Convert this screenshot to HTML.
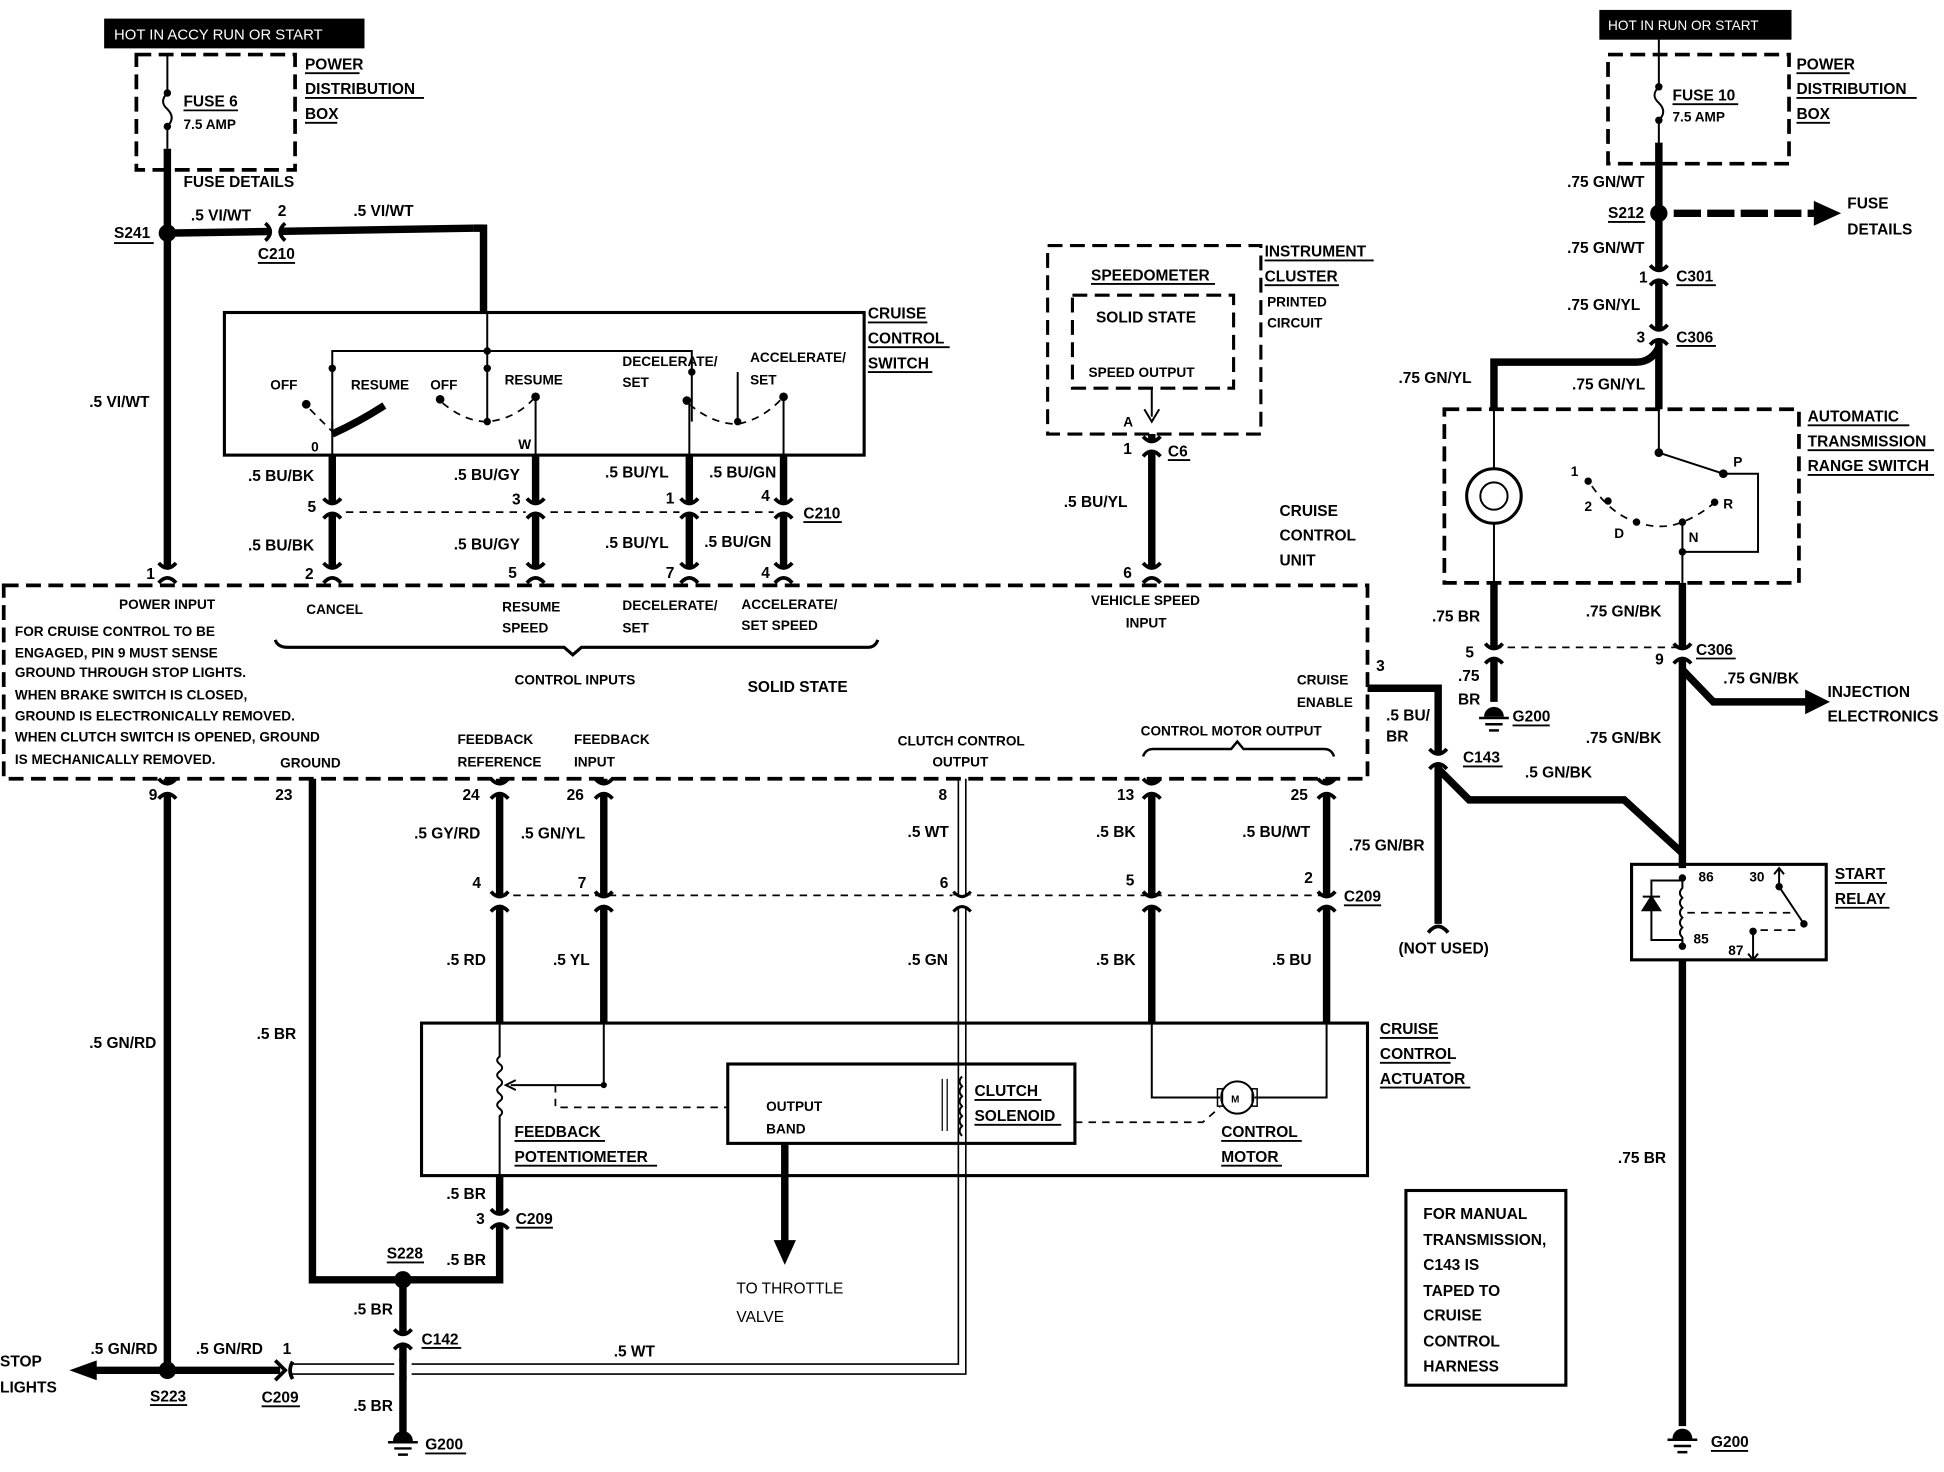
<!DOCTYPE html>
<html><head><meta charset="utf-8"><style>
html,body{margin:0;padding:0;background:#fff;}
svg{display:block;}
text{font-family:"Liberation Sans Narrow","Liberation Sans",sans-serif;font-weight:bold;font-size:12.5px;fill:#000;}
.s{font-size:11px;}
.w{fill:#fff;}
.th{stroke:#000;stroke-width:6;fill:none;}
.tn{stroke:#000;stroke-width:1.6;fill:none;}
.ds{stroke:#000;stroke-width:3;fill:none;stroke-dasharray:12 6;}
.dt{stroke:#000;stroke-width:1.4;fill:none;stroke-dasharray:6 5;}
.u{stroke:#000;stroke-width:1.5;}
</style></head><body>
<svg width="1944" height="1472" viewBox="0 0 1568 1187" preserveAspectRatio="none" xmlns="http://www.w3.org/2000/svg">
<defs>
<g id="cv"><rect x="-8" y="-4" width="16" height="8" fill="#fff"/><path d="M-7,-8 Q0,0 7,-8 M-7,8 Q0,0 7,8" stroke="#000" stroke-width="3" fill="none"/></g>
<g id="gnd"><path d="M-8,2 A8,8 0 0 1 8,2 Z" fill="#000"/><line x1="-12" y1="3" x2="12" y2="3" stroke="#000" stroke-width="2"/><line x1="-7" y1="8" x2="7" y2="8" stroke="#000" stroke-width="2"/><line x1="-4" y1="13" x2="4" y2="13" stroke="#000" stroke-width="2"/></g>
</defs>

<!-- LEFT FUSE -->
<rect x="84" y="15" width="210" height="24" fill="#000"/>
<text x="92" y="32" class="w" style="font-weight:normal;font-size:12px;fill:#fff">HOT IN ACCY RUN OR START</text>
<rect x="110" y="44" width="128" height="93" class="ds"/>
<path d="M135,44 V75 Q128,82 135,88 Q142,95 135,102 V120" class="tn"/>
<circle cx="135" cy="75" r="3"/><circle cx="135" cy="102" r="3"/>
<text x="148" y="86">FUSE 6</text><line x1="148" y1="89" x2="192" y2="89" class="u"/>
<text x="148" y="104" class="s">7.5 AMP</text>
<text x="246" y="56">POWER</text><line x1="246" y1="59" x2="290" y2="59" class="u"/>
<text x="246" y="76">DISTRIBUTION</text><line x1="246" y1="79" x2="342" y2="79" class="u"/>
<text x="246" y="96">BOX</text><line x1="246" y1="99" x2="272" y2="99" class="u"/>
<text x="148" y="151">FUSE DETAILS</text>
<line x1="135" y1="120" x2="135" y2="462" class="th"/>
<circle cx="135" cy="188" r="7"/>
<text x="92" y="192">S241</text><line x1="92" y1="196" x2="124" y2="196" class="u"/>
<line x1="135" y1="188" x2="382" y2="184" class="th"/>
<line x1="382" y1="184" x2="390" y2="184" class="th"/>
<line x1="390" y1="181" x2="390" y2="252" class="th"/>
<g transform="translate(222,187) rotate(90)"><use href="#cv"/></g>
<text x="154" y="178">.5 VI/WT</text><text x="224" y="174">2</text>
<text x="285" y="174">.5 VI/WT</text>
<text x="208" y="209">C210</text><line x1="208" y1="212" x2="238" y2="212" class="u"/>
<text x="72" y="328">.5 VI/WT</text>

<!-- CRUISE CONTROL SWITCH -->
<rect x="181" y="252" width="516" height="115" class="tn" style="stroke-width:2.5"/>
<text x="700" y="257">CRUISE</text><line x1="700" y1="260" x2="748" y2="260" class="u"/>
<text x="700" y="277">CONTROL</text><line x1="700" y1="280" x2="766" y2="280" class="u"/>
<text x="700" y="297">SWITCH</text><line x1="700" y1="300" x2="752" y2="300" class="u"/>
<line x1="393" y1="252" x2="393" y2="340" class="tn"/>
<path d="M268,350 V283 H558 V340" class="tn"/>
<circle cx="393" cy="283" r="3"/><circle cx="393" cy="297" r="3"/><circle cx="268" cy="297" r="3"/><circle cx="558" cy="300" r="3"/>
<text x="218" y="314" class="s">OFF</text><text x="283" y="314" class="s">RESUME</text>
<text x="347" y="314" class="s">OFF</text><text x="407" y="310" class="s">RESUME</text>
<text x="502" y="295" class="s">DECELERATE/</text><text x="502" y="312" class="s">SET</text>
<text x="605" y="292" class="s">ACCELERATE/</text><text x="605" y="310" class="s">SET</text>
<circle cx="247" cy="326" r="3.5"/><path d="M250,330 Q260,340 268,348" class="dt"/>
<path d="M268,350 Q290,340 310,327" stroke="#000" stroke-width="6" fill="none"/>
<circle cx="355" cy="322" r="3.5"/><path d="M357,325 Q375,340 393,340 Q415,338 430,322" class="dt"/><circle cx="432" cy="320" r="3.5"/><circle cx="393" cy="340" r="3"/>
<circle cx="554" cy="323" r="3.5"/><path d="M556,326 Q575,342 595,342 Q615,338 630,322" class="dt"/><circle cx="632" cy="320" r="3.5"/><circle cx="595" cy="340" r="3"/>
<line x1="595" y1="300" x2="595" y2="342" class="tn"/>
<line x1="268" y1="340" x2="268" y2="367" class="tn"/>
<line x1="432" y1="320" x2="432" y2="367" class="tn"/>
<line x1="556" y1="323" x2="556" y2="367" class="tn"/>
<line x1="632" y1="320" x2="632" y2="367" class="tn"/>
<text x="251" y="364" class="s">0</text><text x="418" y="362" class="s">W</text>

<!-- switch outputs -->
<line x1="268" y1="367" x2="268" y2="462" class="th"/>
<line x1="432" y1="367" x2="432" y2="462" class="th"/>
<line x1="556" y1="367" x2="556" y2="462" class="th"/>
<line x1="632" y1="367" x2="632" y2="462" class="th"/>
<line x1="268" y1="413" x2="632" y2="413" class="dt"/>
<use href="#cv" x="268" y="410"/><use href="#cv" x="432" y="410"/><use href="#cv" x="556" y="410"/><use href="#cv" x="632" y="410"/>
<use href="#cv" x="135" y="462"/><use href="#cv" x="268" y="462"/><use href="#cv" x="432" y="462"/><use href="#cv" x="556" y="462"/><use href="#cv" x="632" y="462"/>
<text x="200" y="388">.5 BU/BK</text><text x="366" y="387">.5 BU/GY</text><text x="488" y="385">.5 BU/YL</text><text x="572" y="385">.5 BU/GN</text>
<text x="248" y="413">5</text><text x="413" y="407">3</text><text x="537" y="406">1</text><text x="614" y="404">4</text>
<text x="648" y="418">C210</text><line x1="648" y1="421" x2="679" y2="421" class="u"/>
<text x="200" y="444">.5 BU/BK</text><text x="366" y="443">.5 BU/GY</text><text x="488" y="442">.5 BU/YL</text><text x="568" y="441">.5 BU/GN</text>
<text x="118" y="467">1</text><text x="246" y="467">2</text><text x="410" y="466">5</text><text x="537" y="466">7</text><text x="614" y="466">4</text>

<!-- SPEEDOMETER -->
<rect x="845" y="198" width="172" height="152" class="ds" style="stroke-width:2.5"/>
<rect x="865" y="238" width="130" height="75" class="ds" style="stroke-width:2.5"/>
<text x="880" y="226">SPEEDOMETER</text><line x1="880" y1="229" x2="980" y2="229" class="u"/>
<text x="884" y="260">SOLID STATE</text>
<text x="878" y="304" class="s">SPEED OUTPUT</text>
<text x="1020" y="207">INSTRUMENT</text><line x1="1020" y1="210" x2="1108" y2="210" class="u"/>
<text x="1020" y="227">CLUSTER</text><line x1="1020" y1="230" x2="1080" y2="230" class="u"/>
<text x="1022" y="247" class="s">PRINTED</text><text x="1022" y="264" class="s">CIRCUIT</text>
<line x1="929" y1="313" x2="929" y2="336" class="tn"/><path d="M923,330 L929,340 L935,330" class="tn"/>
<text x="906" y="344" class="s">A</text>
<line x1="929" y1="350" x2="929" y2="462" class="th"/>
<use href="#cv" x="929" y="360"/><use href="#cv" x="929" y="462"/>
<text x="906" y="366">1</text><text x="942" y="368">C6</text><line x1="942" y1="371" x2="960" y2="371" class="u"/>
<text x="858" y="409">.5 BU/YL</text><text x="906" y="466">6</text>
<text x="1032" y="416">CRUISE</text><text x="1032" y="436">CONTROL</text><text x="1032" y="456">UNIT</text>

<!-- CCU -->
<rect x="3" y="472" width="1100" height="156" class="ds"/>
<text x="96" y="491" class="s">POWER INPUT</text>
<text x="247" y="495" class="s">CANCEL</text>
<text x="405" y="493" class="s">RESUME</text><text x="405" y="510" class="s">SPEED</text>
<text x="502" y="492" class="s">DECELERATE/</text><text x="502" y="510" class="s">SET</text>
<text x="598" y="491" class="s">ACCELERATE/</text><text x="598" y="508" class="s">SET SPEED</text>
<text x="880" y="488" class="s">VEHICLE SPEED</text><text x="908" y="506" class="s">INPUT</text>
<g class="s"><text x="12" y="513" class="s">FOR CRUISE CONTROL TO BE</text>
<text x="12" y="530" class="s">ENGAGED, PIN 9 MUST SENSE</text>
<text x="12" y="546" class="s">GROUND THROUGH STOP LIGHTS.</text>
<text x="12" y="564" class="s">WHEN BRAKE SWITCH IS CLOSED,</text>
<text x="12" y="581" class="s">GROUND IS ELECTRONICALLY REMOVED.</text>
<text x="12" y="598" class="s">WHEN CLUTCH SWITCH IS OPENED, GROUND</text>
<text x="12" y="616" class="s">IS MECHANICALLY REMOVED.</text></g>
<path d="M222,516 Q224,522 232,522 H455 L462,528 L469,522 H700 Q706,522 708,516" class="tn" style="stroke-width:2.5"/>
<text x="415" y="552" class="s">CONTROL INPUTS</text>
<text x="603" y="558">SOLID STATE</text>
<text x="1046" y="552" class="s">CRUISE</text><text x="1046" y="570" class="s">ENABLE</text>
<text x="226" y="619" class="s">GROUND</text>
<text x="369" y="600" class="s">FEEDBACK</text><text x="369" y="618" class="s">REFERENCE</text>
<text x="463" y="600" class="s">FEEDBACK</text><text x="463" y="618" class="s">INPUT</text>
<text x="724" y="601" class="s">CLUTCH CONTROL</text><text x="752" y="618" class="s">OUTPUT</text>
<text x="920" y="593" class="s">CONTROL MOTOR OUTPUT</text>
<path d="M922,610 Q924,604 930,604 H993 L998,598 L1003,604 H1068 Q1074,604 1076,610" class="tn" style="stroke-width:2"/>
<text x="1110" y="541">3</text>

<!-- below CCU wires -->
<line x1="135" y1="628" x2="135" y2="1105" class="th"/>
<path d="M252,628 V1032 H325" class="th"/>
<line x1="403" y1="628" x2="403" y2="825" class="th"/>
<line x1="487" y1="628" x2="487" y2="825" class="th"/>
<path d="M773,628 V1100 H235 M779,628 V1108 H235" class="tn" style="stroke-width:1.3"/>
<line x1="929" y1="628" x2="929" y2="825" class="th"/>
<line x1="1070" y1="628" x2="1070" y2="825" class="th"/>
<use href="#cv" x="135" y="636"/><use href="#cv" x="403" y="636"/><use href="#cv" x="487" y="636"/><use href="#cv" x="929" y="636"/><use href="#cv" x="1070" y="636"/>
<text x="120" y="645">9</text><text x="222" y="645">23</text><text x="373" y="645">24</text><text x="457" y="645">26</text><text x="757" y="645">8</text><text x="901" y="645">13</text><text x="1041" y="645">25</text>
<line x1="403" y1="722" x2="1070" y2="722" class="dt"/>
<use href="#cv" x="403" y="727"/><use href="#cv" x="487" y="727"/><rect x="768" y="722" width="16" height="10" fill="#fff"/><path d="M769,719 Q776,727 783,719 M769,735 Q776,727 783,735" class="tn" style="stroke-width:2.5"/><use href="#cv" x="929" y="727"/><use href="#cv" x="1070" y="727"/>
<text x="381" y="716">4</text><text x="466" y="716">7</text><text x="758" y="716">6</text><text x="908" y="714">5</text><text x="1052" y="712">2</text>
<text x="1084" y="727">C209</text><line x1="1084" y1="730" x2="1114" y2="730" class="u"/>
<text x="334" y="676">.5 GY/RD</text><text x="420" y="676">.5 GN/YL</text><text x="732" y="675">.5 WT</text><text x="884" y="675">.5 BK</text><text x="1002" y="675">.5 BU/WT</text>
<text x="360" y="778">.5 RD</text><text x="446" y="778">.5 YL</text><text x="732" y="778">.5 GN</text><text x="884" y="778">.5 BK</text><text x="1026" y="778">.5 BU</text>
<text x="72" y="845">.5 GN/RD</text><text x="207" y="838">.5 BR</text>

<!-- ACTUATOR -->
<rect x="340" y="825" width="763" height="123" class="tn" style="stroke-width:2.5"/>
<text x="1113" y="834">CRUISE</text><line x1="1113" y1="837" x2="1160" y2="837" class="u"/>
<text x="1113" y="854">CONTROL</text><line x1="1113" y1="857" x2="1170" y2="857" class="u"/>
<text x="1113" y="874">ACTUATOR</text><line x1="1113" y1="877" x2="1186" y2="877" class="u"/>
<path d="M403,825 V852 q-4,3 0,6 q4,3 0,6 q-4,3 0,6 q4,3 0,6 q-4,3 0,6 q4,3 0,6 q-4,3 0,6 q4,3 0,6 V948" class="tn"/>
<path d="M487,825 V875 H412" class="tn"/><path d="M416,871 L408,875 L416,879" class="tn"/><circle cx="487" cy="875" r="2.5"/>
<path d="M448,875 V893 H587" class="dt"/>
<rect x="587" y="858" width="280" height="64" class="tn" style="stroke-width:2.5"/>
<text x="618" y="896" class="s">OUTPUT</text><text x="618" y="914" class="s">BAND</text>
<line x1="760" y1="870" x2="760" y2="912" class="tn" style="stroke-width:1"/><line x1="764" y1="870" x2="764" y2="912" class="tn" style="stroke-width:1"/>
<path d="M776,868 q-4,4 0,8 q-4,4 0,8 q-4,4 0,8 q-4,4 0,8 q-4,4 0,8 q-4,4 0,8" class="tn"/>
<text x="786" y="884">CLUTCH</text><line x1="786" y1="887" x2="840" y2="887" class="u"/>
<text x="786" y="904">SOLENOID</text><line x1="786" y1="907" x2="856" y2="907" class="u"/>
<path d="M867,905 H970 L984,893" class="dt"/>
<path d="M929,825 V885 H984 M1070,825 V885 H1012" class="tn"/>
<circle cx="998" cy="885" r="13" class="tn"/><rect x="982" y="878" width="4" height="14" class="tn" style="stroke-width:1.2"/><rect x="1010" y="878" width="4" height="14" class="tn" style="stroke-width:1.2"/>
<text x="993" y="889" class="s" style="font-size:8px">M</text>
<text x="985" y="917">CONTROL</text><line x1="985" y1="920" x2="1050" y2="920" class="u"/>
<text x="985" y="937">MOTOR</text><line x1="985" y1="940" x2="1034" y2="940" class="u"/>
<text x="415" y="917">FEEDBACK</text><line x1="415" y1="920" x2="488" y2="920" class="u"/>
<text x="415" y="937">POTENTIOMETER</text><line x1="415" y1="940" x2="530" y2="940" class="u"/>
<line x1="633" y1="922" x2="633" y2="1002" class="th"/><path d="M624,1000 L633,1020 L642,1000 Z"/>
<text x="594" y="1043" style="font-weight:normal">TO THROTTLE</text><text x="594" y="1066" style="font-weight:normal">VALVE</text>

<!-- bottom left -->
<path d="M403,948 V1032 H325" class="th"/>
<use href="#cv" x="403" y="983"/>
<text x="360" y="967">.5 BR</text><text x="384" y="987">3</text><text x="416" y="987">C209</text><line x1="416" y1="990" x2="446" y2="990" class="u"/>
<text x="312" y="1015">S228</text><line x1="312" y1="1018" x2="342" y2="1018" class="u"/>
<text x="360" y="1020">.5 BR</text>
<line x1="325" y1="1032" x2="325" y2="1160" class="th"/><circle cx="325" cy="1032" r="7"/>
<use href="#cv" x="325" y="1080"/><rect x="318" y="1098" width="14" height="12" fill="#fff"/><line x1="325" y1="1096" x2="325" y2="1112" class="th"/>
<text x="285" y="1060">.5 BR</text><text x="340" y="1084">C142</text><line x1="340" y1="1087" x2="372" y2="1087" class="u"/>
<text x="285" y="1138">.5 BR</text><text x="495" y="1094">.5 WT</text>
<use href="#gnd" x="325" y="1160"/>
<text x="343" y="1169">G200</text><line x1="343" y1="1172" x2="376" y2="1172" class="u"/>
<line x1="72" y1="1105" x2="226" y2="1105" class="th"/><path d="M78,1097 L56,1105 L78,1113 Z"/>
<circle cx="135" cy="1105" r="7"/>
<path d="M222,1097 L230,1105 L222,1113" class="tn" style="stroke-width:3"/><path d="M236,1098 Q232,1105 236,1112" class="tn" style="stroke-width:3"/>
<text x="0" y="1102">STOP</text><text x="0" y="1123">LIGHTS</text>
<text x="73" y="1092">.5 GN/RD</text><text x="158" y="1092">.5 GN/RD</text><text x="228" y="1092">1</text>
<text x="121" y="1130">S223</text><line x1="121" y1="1133" x2="151" y2="1133" class="u"/>
<text x="211" y="1131">C209</text><line x1="211" y1="1134" x2="242" y2="1134" class="u"/>

<!-- RIGHT FUSE -->
<rect x="1290" y="8" width="155" height="24" fill="#000"/>
<text x="1297" y="24" style="font-weight:normal;font-size:11px;fill:#fff">HOT IN RUN OR START</text>
<rect x="1297" y="44" width="146" height="88" class="ds"/>
<path d="M1338,32 V70 Q1331,77 1338,83 Q1345,90 1338,97 V115" class="tn"/>
<circle cx="1338" cy="70" r="3"/><circle cx="1338" cy="97" r="3"/>
<text x="1349" y="81">FUSE 10</text><line x1="1349" y1="84" x2="1402" y2="84" class="u"/>
<text x="1349" y="98" class="s">7.5 AMP</text>
<text x="1449" y="56">POWER</text><line x1="1449" y1="59" x2="1492" y2="59" class="u"/>
<text x="1449" y="76">DISTRIBUTION</text><line x1="1449" y1="79" x2="1546" y2="79" class="u"/>
<text x="1449" y="96">BOX</text><line x1="1449" y1="99" x2="1476" y2="99" class="u"/>
<line x1="1338" y1="115" x2="1338" y2="330" class="th"/>
<circle cx="1338" cy="172" r="7"/>
<path d="M1350,172 H1465" class="th" style="stroke-dasharray:22 5"/><path d="M1463,162 L1485,172 L1463,182 Z"/>
<text x="1490" y="168">FUSE</text><text x="1490" y="189">DETAILS</text>
<text x="1264" y="151">.75 GN/WT</text>
<text x="1297" y="176">S212</text><line x1="1297" y1="179" x2="1327" y2="179" class="u"/>
<text x="1264" y="204">.75 GN/WT</text>
<use href="#cv" x="1338" y="222"/><text x="1322" y="228">1</text><text x="1352" y="227">C301</text><line x1="1352" y1="230" x2="1384" y2="230" class="u"/>
<text x="1264" y="250">.75 GN/YL</text>
<use href="#cv" x="1338" y="270"/><text x="1320" y="276">3</text><text x="1352" y="276">C306</text><line x1="1352" y1="279" x2="1384" y2="279" class="u"/>
<path d="M1338,280 Q1332,292 1320,292 H1205 V330" class="th"/>
<text x="1128" y="309">.75 GN/YL</text><text x="1268" y="314">.75 GN/YL</text>

<!-- ATRS -->
<rect x="1165" y="330" width="286" height="140" class="ds"/>
<text x="1458" y="340">AUTOMATIC</text><line x1="1458" y1="343" x2="1540" y2="343" class="u"/>
<text x="1458" y="360">TRANSMISSION</text><line x1="1458" y1="363" x2="1560" y2="363" class="u"/>
<text x="1458" y="380">RANGE SWITCH</text><line x1="1458" y1="383" x2="1560" y2="383" class="u"/>
<line x1="1205" y1="330" x2="1205" y2="378" class="tn"/><line x1="1205" y1="422" x2="1205" y2="470" class="tn"/>
<circle cx="1205" cy="400" r="22" class="tn" style="stroke-width:2.5"/><circle cx="1205" cy="400" r="11" class="tn"/>
<path d="M1338,330 V365 L1390,382" class="tn"/><circle cx="1338" cy="365" r="3.5"/><circle cx="1390" cy="382" r="3.5"/>
<path d="M1392,382 H1418 V445 H1357" class="tn"/>
<text x="1398" y="376" class="s">P</text><text x="1390" y="410" class="s">R</text><text x="1362" y="437" class="s">N</text><text x="1302" y="434" class="s">D</text><text x="1278" y="412" class="s">2</text><text x="1267" y="384" class="s">1</text>
<circle cx="1281" cy="388" r="3"/><circle cx="1297" cy="404" r="3"/><circle cx="1320" cy="421" r="3"/><circle cx="1357" cy="421" r="3"/><circle cx="1383" cy="405" r="3"/>
<path d="M1284,392 Q1300,415 1320,421 Q1340,428 1357,421 Q1372,415 1383,405" class="dt"/>
<line x1="1357" y1="421" x2="1357" y2="470" class="tn"/><circle cx="1357" cy="445" r="3"/>

<line x1="1205" y1="470" x2="1205" y2="566" class="th"/>
<line x1="1357" y1="470" x2="1357" y2="700" class="th"/>
<line x1="1205" y1="522" x2="1357" y2="522" class="dt"/>
<use href="#cv" x="1205" y="527"/><use href="#cv" x="1357" y="527"/>
<use href="#gnd" x="1205" y="576"/>
<text x="1155" y="501">.75 BR</text><text x="1182" y="530">5</text><text x="1176" y="549">.75</text><text x="1176" y="568">BR</text>
<text x="1220" y="582">G200</text><line x1="1220" y1="585" x2="1250" y2="585" class="u"/>
<text x="1279" y="497">.75 GN/BK</text><text x="1368" y="528">C306</text><line x1="1368" y1="531" x2="1400" y2="531" class="u"/><text x="1335" y="536">9</text>
<path d="M1357,540 L1382,566 H1458" class="th"/><path d="M1456,556 L1476,566 L1456,576 Z"/>
<text x="1390" y="551">.75 GN/BK</text>
<text x="1474" y="562">INJECTION</text><text x="1474" y="582">ELECTRONICS</text>
<text x="1279" y="599">.75 GN/BK</text>

<path d="M1103,555 H1160 V745" class="th"/>
<path d="M1160,620 L1185,645 H1310 L1357,688" class="th"/>
<use href="#cv" x="1160" y="612"/>
<path d="M1152,752 Q1160,742 1168,752" class="tn" style="stroke-width:3"/>
<text x="1118" y="581">.5 BU/</text><text x="1118" y="598">BR</text>
<text x="1180" y="615">C143</text><line x1="1180" y1="618" x2="1212" y2="618" class="u"/>
<text x="1230" y="627">.5 GN/BK</text>
<text x="1088" y="686">.75 GN/BR</text>
<text x="1128" y="769">(NOT USED)</text>

<!-- START RELAY -->
<rect x="1316" y="697" width="157" height="77" class="tn" style="stroke-width:2.5"/>
<text x="1480" y="709">START</text><line x1="1480" y1="712" x2="1522" y2="712" class="u"/>
<text x="1480" y="729">RELAY</text><line x1="1480" y1="732" x2="1524" y2="732" class="u"/>
<path d="M1357,707 V716 q-4,4 0,8 q-4,4 0,8 q-4,4 0,8 q-4,4 0,8 q-4,4 0,8 V765" class="tn"/>
<circle cx="1357" cy="708" r="3"/><circle cx="1357" cy="763" r="3"/>
<path d="M1357,710 H1332 V758 H1357" class="tn"/><path d="M1325,734 L1339,734 L1332,723 Z M1325,723 H1339" class="tn" style="fill:#000"/>
<text x="1370" y="711" class="s">86</text><text x="1366" y="761" class="s">85</text>
<text x="1411" y="711" class="s">30</text><text x="1394" y="770" class="s">87</text>
<path d="M1435,700 V715 L1455,745" class="tn"/><circle cx="1435" cy="715" r="3"/><circle cx="1455" cy="745" r="3"/>
<path d="M1431,705 L1435,700 L1439,705" class="tn"/>
<path d="M1414,774 V751" class="tn"/><circle cx="1414" cy="751" r="3"/><path d="M1410,769 L1414,774 L1418,769" class="tn"/>
<path d="M1361,736 H1445 M1420,750 H1450" class="dt"/>
<line x1="1357" y1="774" x2="1357" y2="1150" class="th"/>
<use href="#gnd" x="1357" y="1158"/>
<text x="1380" y="1167">G200</text><line x1="1380" y1="1170" x2="1410" y2="1170" class="u"/>
<text x="1305" y="938">.75 BR</text>

<rect x="1134" y="960" width="129" height="157" class="tn" style="stroke-width:2.5"/>
<text x="1148" y="983">FOR MANUAL</text><text x="1148" y="1004">TRANSMISSION,</text><text x="1148" y="1024">C143 IS</text><text x="1148" y="1045">TAPED TO</text><text x="1148" y="1065">CRUISE</text><text x="1148" y="1086">CONTROL</text><text x="1148" y="1106">HARNESS</text>
</svg>
</body></html>
